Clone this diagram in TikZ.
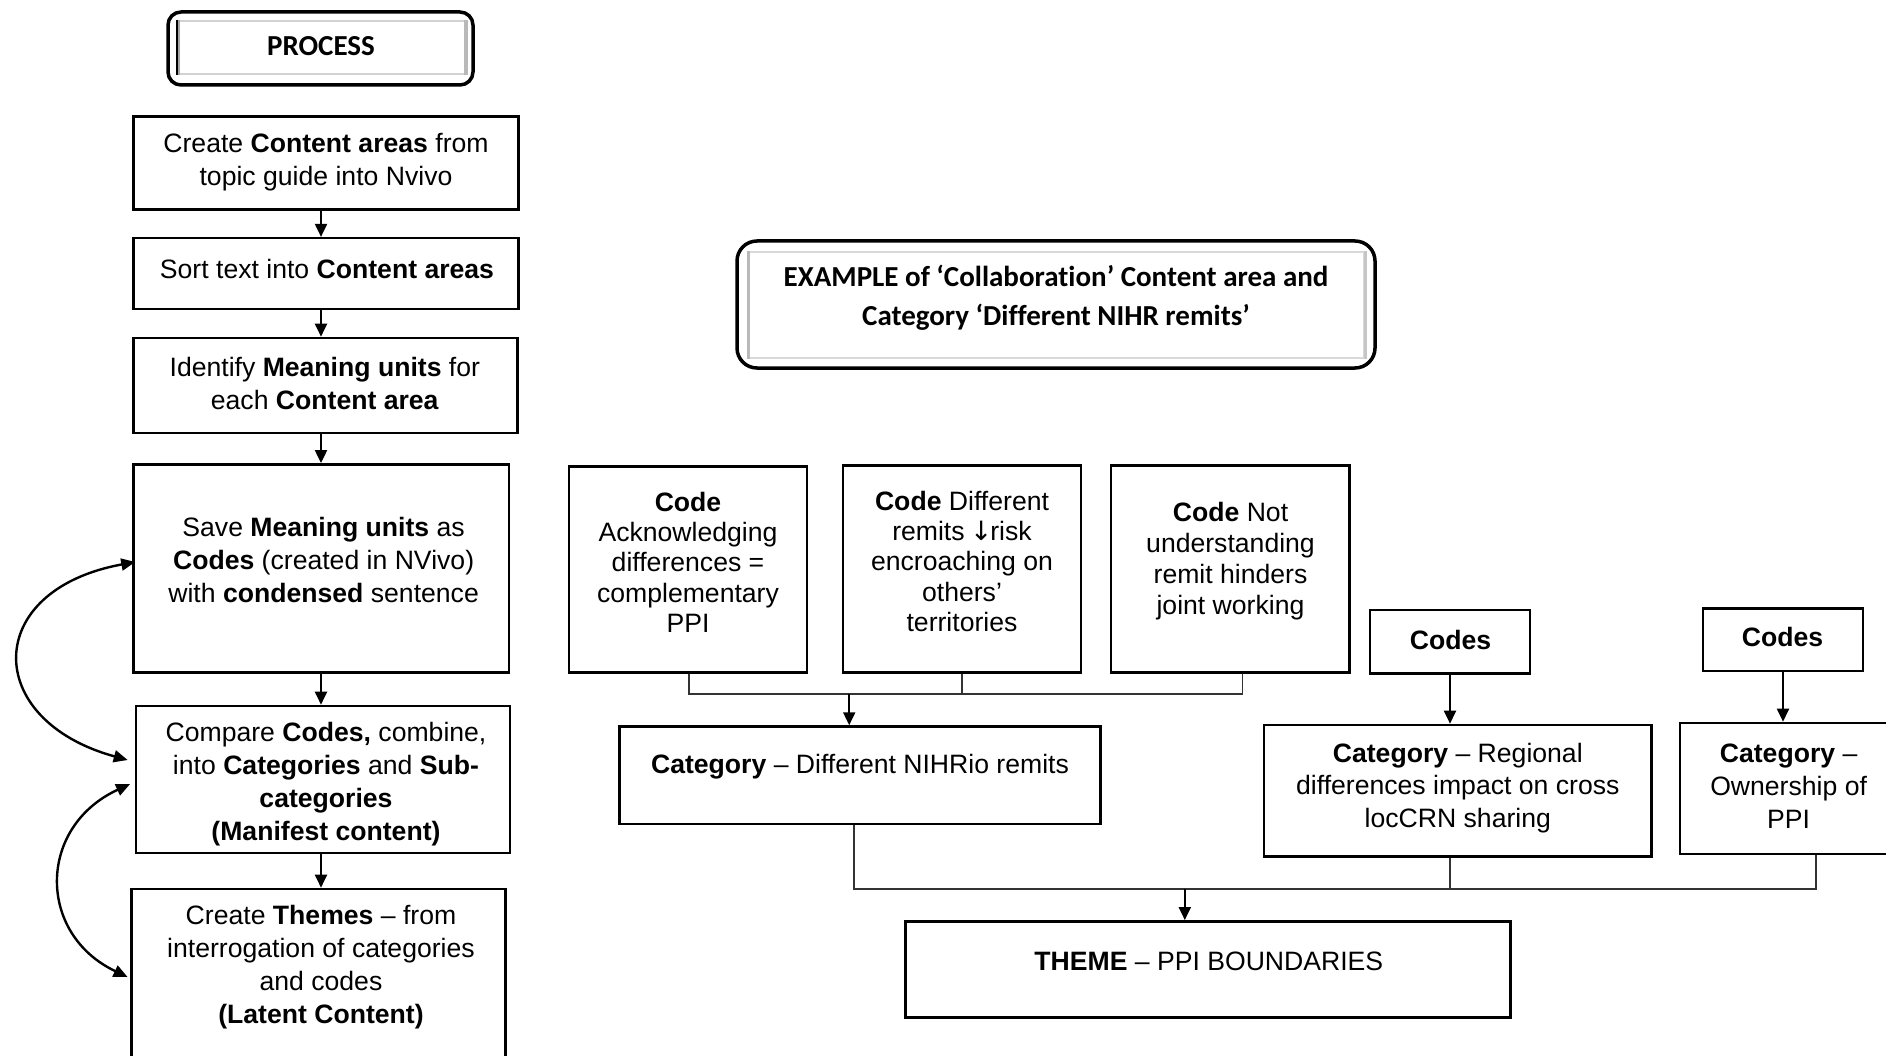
\documentclass[tikz,border=0pt]{standalone}
\usepackage{fontspec}
\setmainfont{Liberation Sans}
\newfontfamily\titlefont[Ligatures=NoCommon]{Carlito}
\newfontfamily\symfont{DejaVu Sans}
\usetikzlibrary{arrows.meta,calc}
\begin{document}
\begin{tikzpicture}[x=1pt,y=-1pt,
  box/.style={draw=black, line width=2.6pt, fill=white, inner sep=0pt, rectangle},
  txt/.style={align=center, inner sep=0pt, yshift=-2.4pt, font=\fontsize{26.6}{33}\selectfont},
  ctxt/.style={align=center, inner sep=0pt, yshift=-2.4pt, font=\fontsize{26.6}{30.4}\selectfont},
  ttl/.style={align=center, inner sep=0pt, font=\titlefont\bfseries\fontsize{29}{38.5}\selectfont},
  arr/.style={line width=2pt, -{Triangle[length=13pt,width=12pt]}},
  joinline/.style={line width=1.3pt, draw=black!80},
  backarr/.style={line width=2.4pt, {Triangle[length=14pt,width=12pt]}-{Triangle[length=14pt,width=12pt]}},
  outerframe/.style={draw=black, line width=3.5pt, fill=white, inner sep=0pt},
  innerframe/.style={draw=gray!35, line width=2pt, fill=white, inner sep=0pt},
]
\clip (0,0) rectangle (1886,1056);

% ---------- PROCESS title ----------
\node[outerframe, rounded corners=13pt, minimum width=305pt, minimum height=73pt] (procout) at (320.5,48.5) {};
\node[innerframe, minimum width=286pt, minimum height=53pt] (procin) at (322,47.5) {};
\draw[gray!70, line width=4pt] (procin.north west) -- (procin.south west);
\draw[black, line width=1.2pt] ($(procin.north west)+(-1,0)$) -- ($(procin.south west)+(-1,0)$);
\draw[gray!55, line width=4pt] (procin.north east) -- (procin.south east);
\node[ttl] (proct) at (321,45.7) {PROCESS};

% ---------- process steps ----------
\node[box, minimum width=385pt, minimum height=92.6pt] (b1) at (326,163) {};
\node[box, minimum width=385pt, minimum height=71pt] (b2) at (326,273.7) {};
\node[box, minimum width=383.7pt, minimum height=95pt] (b3) at (325.4,385.5) {};
\node[box, minimum width=375.3pt, minimum height=208pt] (b4) at (321.2,568.4) {};
\node[box, minimum width=374pt, minimum height=146.8pt] (b5) at (323,779.4) {};
\node[box, minimum width=374pt, minimum height=181pt] (b6) at (318.2,979.5) {};

\node[txt] (b1t) at (326,160) {Create \textbf{Content areas} from\\topic guide into Nvivo};
\node[txt] (b2t) at (327,267) {Sort text into \textbf{Content areas}};
\node[txt] (b3t) at (324.8,381.3) {Identify \textbf{Meaning units} for\\each \textbf{Content area}};
\node[txt] (b4t) at (323.6,557.7) {Save \textbf{Meaning units} as\\\textbf{Codes} (created in NVivo)\\with \textbf{condensed} sentence};
\node[txt] (b5t) at (326,782) {Compare \textbf{Codes,} combine,\\into \textbf{Categories} and \textbf{Sub-}\\\textbf{categories}\\\textbf{(Manifest content)}};
\node[txt] (b6t) at (321,965.2) {Create \textbf{Themes} -- from\\interrogation of categories\\and codes\\\textbf{(Latent Content)}};

\coordinate (ax) at (321,0);
\draw[arr] (b1.south -| ax) -- (b2.north -| ax);
\draw[arr] (b2.south -| ax) -- (b3.north -| ax);
\draw[arr] (b3.south -| ax) -- (b4.north -| ax);
\draw[arr] (b4.south -| ax) -- (b5.north -| ax);
\draw[arr] (b5.south -| ax) -- (b6.north -| ax);

% feedback loops on the left
\draw[backarr] ($(b5.west)+(-7,-19.4)$) .. controls (-18,720) and (-18,590) .. ($(b4.west)+(3,-6.4)$);
\draw[backarr] ($(b5.west)+(-4.6,4.6)$) .. controls (37,827) and (37,934) .. ($(b6.west)+(-2.3,-2.5)$);

% ---------- EXAMPLE title ----------
\node[outerframe, rounded corners=20pt, minimum width=638pt, minimum height=127pt] (exout) at (1056,304.5) {};
\node[innerframe, draw=gray!30, minimum width=615pt, minimum height=106pt] (exin) at (1056.5,305) {};
\draw[gray!55, line width=3pt] (exin.north west) -- (exin.south west);
\draw[gray!45, line width=3pt] (exin.north east) -- (exin.south east);
\node[ttl] (ext) at (1056,298) {EXAMPLE of ‘Collaboration’ Content area and\\Category ‘Different NIHR remits’};

% ---------- codes ----------
\node[box, minimum width=238pt, minimum height=205.7pt] (c1) at (688,569.6) {};
\node[box, minimum width=238pt, minimum height=207pt] (c2) at (962,569) {};
\node[box, minimum width=238.5pt, minimum height=207pt] (c3) at (1230.3,569) {};
\node[box, minimum width=160pt, minimum height=63.6pt] (cA) at (1450,641.8) {};
\node[box, minimum width=160pt, minimum height=62.4pt] (cB) at (1783,639.8) {};

\node[ctxt] (c1t) at (688,559.8) {\textbf{Code}\\Acknowledging\\differences =\\complementary\\PPI};
\node[ctxt] (c2t) at (962,559) {\textbf{Code} Different\\remits {\symfont\kern-2pt↓\kern-2pt}risk\\encroaching on\\others’\\territories};
\node[ctxt, font=\fontsize{26.6}{31}\selectfont] (c3t) at (1230.5,558.7) {\textbf{Code} Not\\understanding\\remit hinders\\joint working};
\node[ctxt] (cAt) at (1450.6,637.5) {\textbf{Codes}};
\node[ctxt] (cBt) at (1782.5,635) {\textbf{Codes}};

% ---------- categories ----------
\node[box, minimum width=481pt, minimum height=97.5pt] (k1) at (860,775.3) {};
\node[box, minimum width=387.4pt, minimum height=131.4pt] (k2) at (1457.7,790.7) {};
\node[box, minimum width=217pt, minimum height=131pt] (k3) at (1788.6,788.5) {};

\node[ctxt] (k1t) at (860,763.8) {\textbf{Category} -- Different NIHRio remits};
\node[ctxt, font=\fontsize{26.6}{32.5}\selectfont] (k2t) at (1457.8,785.4) {\textbf{Category} -- Regional\\differences impact on cross\\locCRN sharing};
\node[ctxt, font=\fontsize{26.6}{33}\selectfont] (k3t) at (1788.6,783.8) {\textbf{Category} --\\Ownership of\\PPI};

% ---------- theme ----------
\node[box, minimum width=605pt, minimum height=96.3pt] (th) at (1208.2,969.5) {};
\node[ctxt] (tht) at (1208.8,958.6) {\textbf{THEME} -- PPI BOUNDARIES};

% codes merge into the first category
\coordinate (j1) at (689,694);
\coordinate (j3) at (1242.5,694);
\coordinate (jm) at (849.2,694);
\draw[joinline] (c1.south -| j1) -- (j1) -- (j3) -- (c3.south -| j3);
\draw[joinline] (c2.south) -- (c2.south |- j1);
\draw[arr] (jm) -- (k1.north -| jm);

\draw[arr] (cA.south) -- (k2.north -| cA.south);
\draw[arr] (cB.south) -- (k3.north -| cB.south);

% categories merge into the theme
\coordinate (m1) at (854,888.9);
\coordinate (m3) at (1816,888.9);
\coordinate (mt) at (1184.8,888.9);
\draw[joinline] (k1.south -| m1) -- (m1) -- (m3) -- (k3.south -| m3);
\draw[joinline] (k2.south -| cA.south) -- (m1 -| cA.south);
\draw[arr] (mt) -- (th.north -| mt);
\end{tikzpicture}
\end{document}
